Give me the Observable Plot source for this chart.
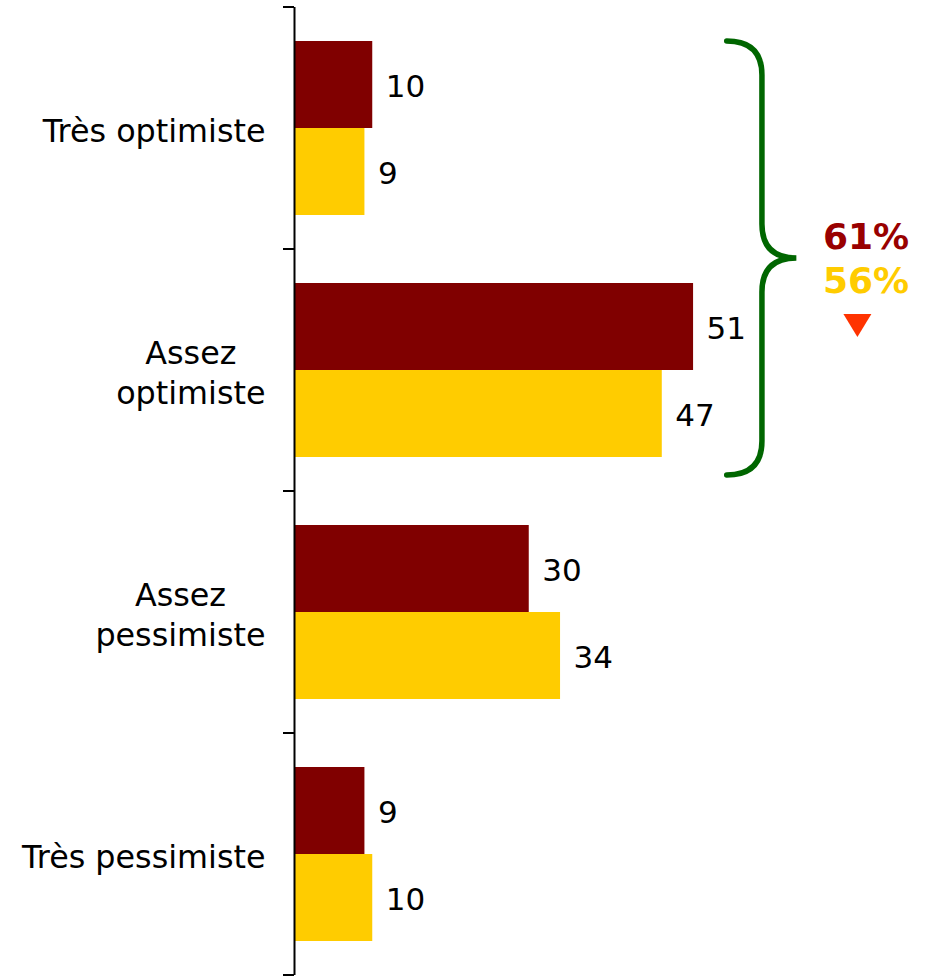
<!DOCTYPE html>
<html>
<head>
<meta charset="utf-8">
<script src="https://cdn.jsdelivr.net/npm/d3@7"></script>
<script src="https://cdn.jsdelivr.net/npm/@observablehq/plot@0.6"></script>
<style>
  html, body { margin: 0; padding: 0; background: #fff; }
  #chart svg { display: block; }
</style>
</head>
<body>
<div id="chart"></div>
<script>
// ---- data ----
const categories = ["Très optimiste", "Assez optimiste", "Assez pessimiste", "Très pessimiste"];
const categoryLabels = ["Très optimiste", "Assez\noptimiste", "Assez\npessimiste", "Très pessimiste"];
const series = ["Vague précédente", "Vague actuelle"];
const seriesColors = ["#800000", "#FFCC00"];
const valuesPrev = [10, 51, 30, 9];
const valuesCurr = [9, 47, 34, 10];
const optimistCats = ["Très optimiste", "Assez optimiste"];
const totalColors = ["#990000", "#FFCC00"];
const arrowColor = "#FF3300";
const braceColor = "#006600";

const data = [];
categories.forEach((c, i) => {
  data.push({category: c, series: series[0], value: valuesPrev[i]});
  data.push({category: c, series: series[1], value: valuesCurr[i]});
});
const totals = series.map(s => d3.sum(data.filter(d => d.series === s && optimistCats.includes(d.category)), d => d.value));
const labelOf = new Map(categories.map((c, i) => [c, categoryLabels[i]]));

const FONT = "'DejaVu Sans', Verdana, sans-serif";

const chart = Plot.plot({
  width: 932,
  height: 977,
  marginLeft: 294,
  marginRight: 12,
  marginTop: 6,
  marginBottom: 2,
  style: {fontFamily: FONT, background: "#fff"},
  x: {domain: [0, 80], axis: null},
  fy: {domain: categories, padding: 0, axis: null},
  y: {domain: series, paddingInner: 0, paddingOuter: 0.386, axis: null},
  color: {domain: series, range: seriesColors},
  marks: [
    Plot.barX(data, {x: "value", y: "series", fy: "category", fill: "series"}),
    Plot.text(data, {x: "value", y: "series", fy: "category", text: d => String(d.value),
      dx: 13, dy: 2, textAnchor: "start", fontSize: 31, fill: "#000"}),
    Plot.text(categories, {fy: d => d, frameAnchor: "left", text: d => labelOf.get(d),
      textAnchor: "end", dx: -29, dy: 1, fontSize: 31.8, lineHeight: 1.26, fill: "#000"}),
    Plot.ruleX([0], {stroke: "#000", strokeWidth: 2})
  ]
});

document.getElementById("chart").appendChild(chart);

// ---- post-processing: boundary ticks, label centring, brace & totals ----
const svg = d3.select(chart);
const fy = chart.scale("fy");
const xs = chart.scale("x");
const x0 = xs.apply(0);

// ticks at category boundaries
const bounds = categories.map(c => fy.apply(c)).concat([fy.apply(categories[categories.length - 1]) + fy.bandwidth]);
const tickG = svg.append("g");
bounds.forEach(b => {
  tickG.append("line")
    .attr("x1", x0 - 11).attr("x2", x0)
    .attr("y1", b).attr("y2", b)
    .attr("stroke", "#000").attr("stroke-width", 2);
});

// centre multi-line category labels within their block
svg.selectAll("text").each(function() {
  const tsp = this.querySelectorAll("tspan");
  if (tsp.length > 1) {
    let maxW = 0;
    tsp.forEach(t => { maxW = Math.max(maxW, t.getComputedTextLength()); });
    this.setAttribute("text-anchor", "middle");
    tsp.forEach(t => t.setAttribute("x", -maxW / 2));
  }
});

// brace
const yTop = fy.apply(optimistCats[0]) + 34;
const yBot = fy.apply(optimistCats[1]) + fy.bandwidth - 16;
const yMid = (yTop + yBot) / 2;
const xTip = xs.apply(55.3), xV = xs.apply(59.8), xPt = xs.apply(64.2);
const r = 34;
const p = d3.path();
p.moveTo(xTip, yTop);
p.quadraticCurveTo(xV, yTop, xV, yTop + r);
p.lineTo(xV, yMid - r);
p.quadraticCurveTo(xV, yMid, xPt, yMid);
p.quadraticCurveTo(xV, yMid, xV, yMid + r);
p.lineTo(xV, yBot - r);
p.quadraticCurveTo(xV, yBot, xTip, yBot);
svg.append("path").attr("d", p.toString())
  .attr("fill", "none").attr("stroke", braceColor)
  .attr("stroke-width", 5.5).attr("stroke-linecap", "round");

// totals
const xt = xs.apply(73.1);
totals.forEach((t, i) => {
  svg.append("text")
    .attr("x", xt).attr("y", yMid - 9 + i * 44)
    .attr("text-anchor", "middle")
    .attr("font-family", FONT).attr("font-weight", "bold").attr("font-size", 36)
    .attr("fill", totalColors[i])
    .text(t + "%");
});
// down arrow (decline)
const ax = xs.apply(72.0), ay = yMid + 56;
svg.append("path")
  .attr("d", `M${ax - 14},${ay} L${ax + 14},${ay} L${ax},${ay + 23} Z`)
  .attr("fill", arrowColor);
</script>
</body>
</html>
